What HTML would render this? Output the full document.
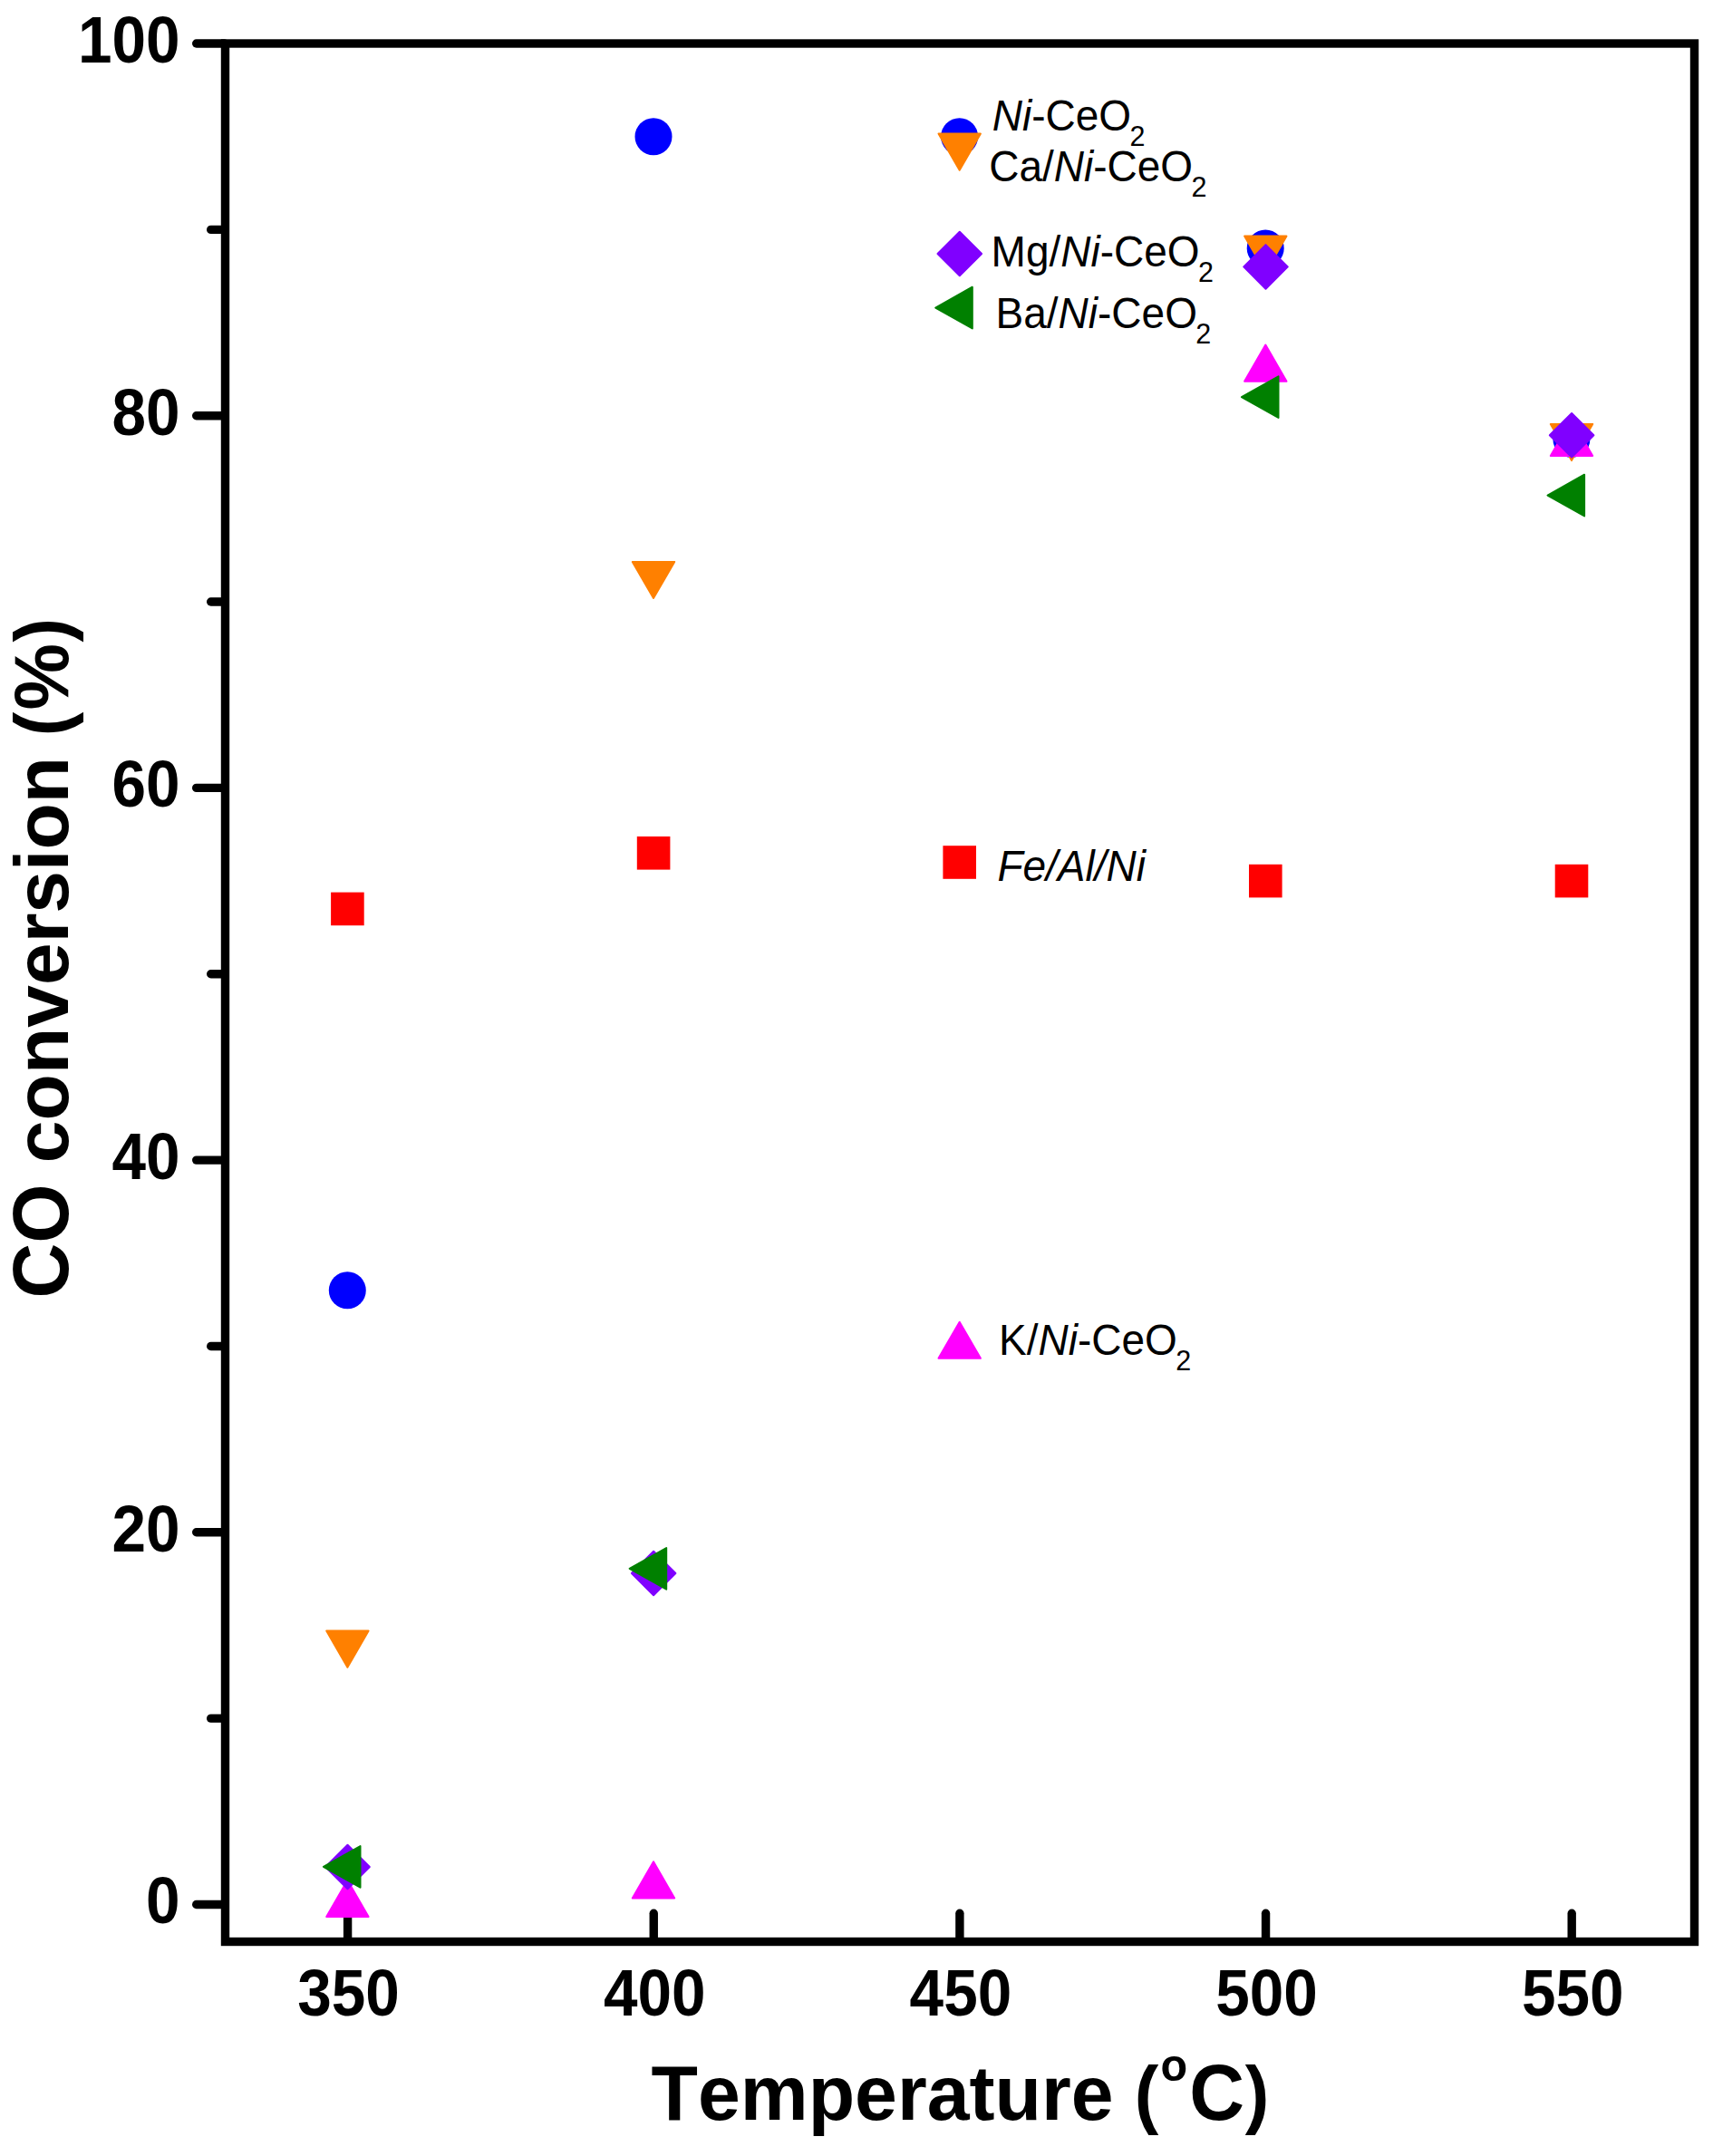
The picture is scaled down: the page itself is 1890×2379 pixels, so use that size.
<!DOCTYPE html>
<html lang="en"><head><meta charset="utf-8"><title>CO conversion vs Temperature</title>
<style>
html,body{margin:0;padding:0;background:#fff;}
body{width:1890px;height:2379px;overflow:hidden;}
svg{display:block;}
text{font-kerning:none;font-family:"Liberation Sans",sans-serif;fill:#000;}
.tk{font-weight:bold;font-size:67.5px;}
.ti{font-weight:bold;font-size:84.2px;white-space:pre;}
.lg{font-size:46px;}
.sub{font-size:30.5px;}
.it{font-style:italic;}
</style></head><body>
<svg width="1890" height="2379" viewBox="0 0 1890 2379">
<rect x="0" y="0" width="1890" height="2379" fill="#ffffff"/>

<g fill="none" stroke="#000" stroke-width="9.4" stroke-linecap="round">
<rect x="248.5" y="48.0" width="1621.0" height="2094.5" stroke-linejoin="miter"/>
<line x1="216.7" y1="2101.50" x2="247.5" y2="2101.50"/>
<line x1="232.7" y1="1896.15" x2="247.5" y2="1896.15"/>
<line x1="216.7" y1="1690.80" x2="247.5" y2="1690.80"/>
<line x1="232.7" y1="1485.45" x2="247.5" y2="1485.45"/>
<line x1="216.7" y1="1280.10" x2="247.5" y2="1280.10"/>
<line x1="232.7" y1="1074.75" x2="247.5" y2="1074.75"/>
<line x1="216.7" y1="869.40" x2="247.5" y2="869.40"/>
<line x1="232.7" y1="664.05" x2="247.5" y2="664.05"/>
<line x1="216.7" y1="458.70" x2="247.5" y2="458.70"/>
<line x1="232.7" y1="253.35" x2="247.5" y2="253.35"/>
<line x1="216.7" y1="48.00" x2="247.5" y2="48.00"/>
<line x1="383.60" y1="2111.2" x2="383.60" y2="2141.5"/>
<line x1="721.25" y1="2111.2" x2="721.25" y2="2141.5"/>
<line x1="1058.90" y1="2111.2" x2="1058.90" y2="2141.5"/>
<line x1="1396.55" y1="2111.2" x2="1396.55" y2="2141.5"/>
<line x1="1734.20" y1="2111.2" x2="1734.20" y2="2141.5"/>
</g>
<text class="tk" transform="translate(198.6,2122.3) scale(1,1.065)" text-anchor="end">0</text>
<text class="tk" transform="translate(198.6,1711.6) scale(1,1.065)" text-anchor="end">20</text>
<text class="tk" transform="translate(198.6,1300.9) scale(1,1.065)" text-anchor="end">40</text>
<text class="tk" transform="translate(198.6,890.2) scale(1,1.065)" text-anchor="end">60</text>
<text class="tk" transform="translate(198.6,479.5) scale(1,1.065)" text-anchor="end">80</text>
<text class="tk" transform="translate(198.6,68.8) scale(1,1.065)" text-anchor="end">100</text>
<text class="tk" transform="translate(384.6,2224.2) scale(1,1.065)" text-anchor="middle">350</text>
<text class="tk" transform="translate(722.2,2224.2) scale(1,1.065)" text-anchor="middle">400</text>
<text class="tk" transform="translate(1059.9,2224.2) scale(1,1.065)" text-anchor="middle">450</text>
<text class="tk" transform="translate(1397.5,2224.2) scale(1,1.065)" text-anchor="middle">500</text>
<text class="tk" transform="translate(1735.2,2224.2) scale(1,1.065)" text-anchor="middle">550</text>
<g transform="translate(718.6,2338.9)">
<text class="ti" style="font-size:84.2px" transform="scale(1,1.02)">Temperature</text>
<text class="ti" style="font-size:84.2px" transform="translate(533.14,0) scale(1,1.038)"><tspan font-size="79.8">(</tspan><tspan font-size="48.5" dx="2.2" dy="-41.3">o</tspan><tspan dx="2.0" dy="41.3">C</tspan><tspan font-size="79.8" dx="0.7">)</tspan></text>
</g>
<g transform="translate(75.3,1432.48) rotate(-90)">
<text class="ti" style="font-size:84.0px" transform="translate(0.00,0) scale(1,1.04)" xml:space="preserve">CO</text>
<text class="ti" style="font-size:84.0px" transform="translate(149.34,0) scale(1,1.0)" xml:space="preserve">conversion</text>
<text class="ti" style="font-size:79.6px" transform="translate(620.31,0) scale(1,1.038)">(<tspan font-size="82.5" dx="2.1">%</tspan><tspan dx="1.6">)</tspan></text>
</g>
<g>
<rect x="365.1" y="984.6" width="36.6" height="36.6" fill="#ff0000"/>
<rect x="702.8" y="923.0" width="36.6" height="36.6" fill="#ff0000"/>
<rect x="1040.4" y="933.2" width="36.6" height="36.6" fill="#ff0000"/>
<rect x="1378.0" y="953.8" width="36.6" height="36.6" fill="#ff0000"/>
<rect x="1715.7" y="953.8" width="36.6" height="36.6" fill="#ff0000"/>
<circle cx="383.3" cy="1423.8" r="20.5" fill="#0000ff"/>
<circle cx="721.0" cy="150.7" r="20.5" fill="#0000ff"/>
<circle cx="1058.6" cy="150.7" r="20.5" fill="#0000ff"/>
<circle cx="1396.2" cy="273.9" r="20.5" fill="#0000ff"/>
<circle cx="1733.9" cy="484.4" r="20.5" fill="#0000ff"/>
<polygon points="383.4,1839.8 406.6,1799.6 360.2,1799.6" fill="#ff8000" stroke="#ff8000" stroke-width="2" stroke-linejoin="round"/>
<polygon points="721.0,660.0 744.2,619.9 697.8,619.9" fill="#ff8000" stroke="#ff8000" stroke-width="2" stroke-linejoin="round"/>
<polygon points="1058.7,187.7 1081.9,147.5 1035.5,147.5" fill="#ff8000" stroke="#ff8000" stroke-width="2" stroke-linejoin="round"/>
<polygon points="1396.3,300.7 1419.5,260.5 1373.1,260.5" fill="#ff8000" stroke="#ff8000" stroke-width="2" stroke-linejoin="round"/>
<polygon points="1734.0,508.1 1757.2,467.9 1710.8,467.9" fill="#ff8000" stroke="#ff8000" stroke-width="2" stroke-linejoin="round"/>
<polygon points="383.4,2074.7 406.6,2114.9 360.2,2114.9" fill="#ff00ff" stroke="#ff00ff" stroke-width="2" stroke-linejoin="round"/>
<polygon points="721.0,2054.2 744.2,2094.4 697.8,2094.4" fill="#ff00ff" stroke="#ff00ff" stroke-width="2" stroke-linejoin="round"/>
<polygon points="1058.7,1458.7 1081.9,1498.8 1035.5,1498.8" fill="#ff00ff" stroke="#ff00ff" stroke-width="2" stroke-linejoin="round"/>
<polygon points="1396.3,380.6 1419.5,420.8 1373.1,420.8" fill="#ff00ff" stroke="#ff00ff" stroke-width="2" stroke-linejoin="round"/>
<polygon points="1734.0,462.7 1757.2,502.9 1710.8,502.9" fill="#ff00ff" stroke="#ff00ff" stroke-width="2" stroke-linejoin="round"/>
<polygon points="383.5,2035.7 407.8,2060.0 383.5,2084.3 359.2,2060.0" fill="#8000ff" stroke="#8000ff" stroke-width="2" stroke-linejoin="round"/>
<polygon points="721.1,1711.7 745.4,1736.0 721.1,1760.3 696.9,1736.0" fill="#8000ff" stroke="#8000ff" stroke-width="2" stroke-linejoin="round"/>
<polygon points="1058.8,255.7 1083.1,280.0 1058.8,304.3 1034.5,280.0" fill="#8000ff" stroke="#8000ff" stroke-width="2" stroke-linejoin="round"/>
<polygon points="1396.5,270.1 1420.8,294.4 1396.5,318.7 1372.2,294.4" fill="#8000ff" stroke="#8000ff" stroke-width="2" stroke-linejoin="round"/>
<polygon points="1734.1,456.0 1758.4,480.3 1734.1,504.6 1709.8,480.3" fill="#8000ff" stroke="#8000ff" stroke-width="2" stroke-linejoin="round"/>
<polygon points="356.9,2059.8 397.5,2037.0 397.5,2082.7" fill="#008000" stroke="#008000" stroke-width="2" stroke-linejoin="round"/>
<polygon points="694.6,1730.8 735.2,1708.0 735.2,1753.7" fill="#008000" stroke="#008000" stroke-width="2" stroke-linejoin="round"/>
<polygon points="1032.2,339.6 1072.8,316.7 1072.8,362.4" fill="#008000" stroke="#008000" stroke-width="2" stroke-linejoin="round"/>
<polygon points="1369.9,438.2 1410.5,415.3 1410.5,461.0" fill="#008000" stroke="#008000" stroke-width="2" stroke-linejoin="round"/>
<polygon points="1707.5,546.6 1748.1,523.7 1748.1,569.4" fill="#008000" stroke="#008000" stroke-width="2" stroke-linejoin="round"/>
</g>
<text class="lg" transform="translate(1094.7,143.8) scale(1,1.033)"><tspan class="it">Ni</tspan>-CeO<tspan class="sub" dx="-1.6" dy="16.5">2</tspan></text>
<text class="lg" transform="translate(1091.2,200.3) scale(1,1.033)">Ca/<tspan class="it">Ni</tspan>-CeO<tspan class="sub" dx="-1.6" dy="16.5">2</tspan></text>
<text class="lg" transform="translate(1093.6,293.7) scale(1,1.033)">Mg/<tspan class="it">Ni</tspan>-CeO<tspan class="sub" dx="-1.6" dy="16.5">2</tspan></text>
<text class="lg" transform="translate(1098.6,362) scale(1,1.033)">Ba/<tspan class="it">Ni</tspan>-CeO<tspan class="sub" dx="-1.6" dy="16.5">2</tspan></text>
<text class="lg" transform="translate(1100.4,972.4) scale(1,1.033)"><tspan class="it">Fe/Al/Ni</tspan></text>
<text class="lg" transform="translate(1102,1494.5) scale(1,1.033)">K/<tspan class="it">Ni</tspan>-CeO<tspan class="sub" dx="-1.6" dy="16.5">2</tspan></text>
</svg></body></html>
